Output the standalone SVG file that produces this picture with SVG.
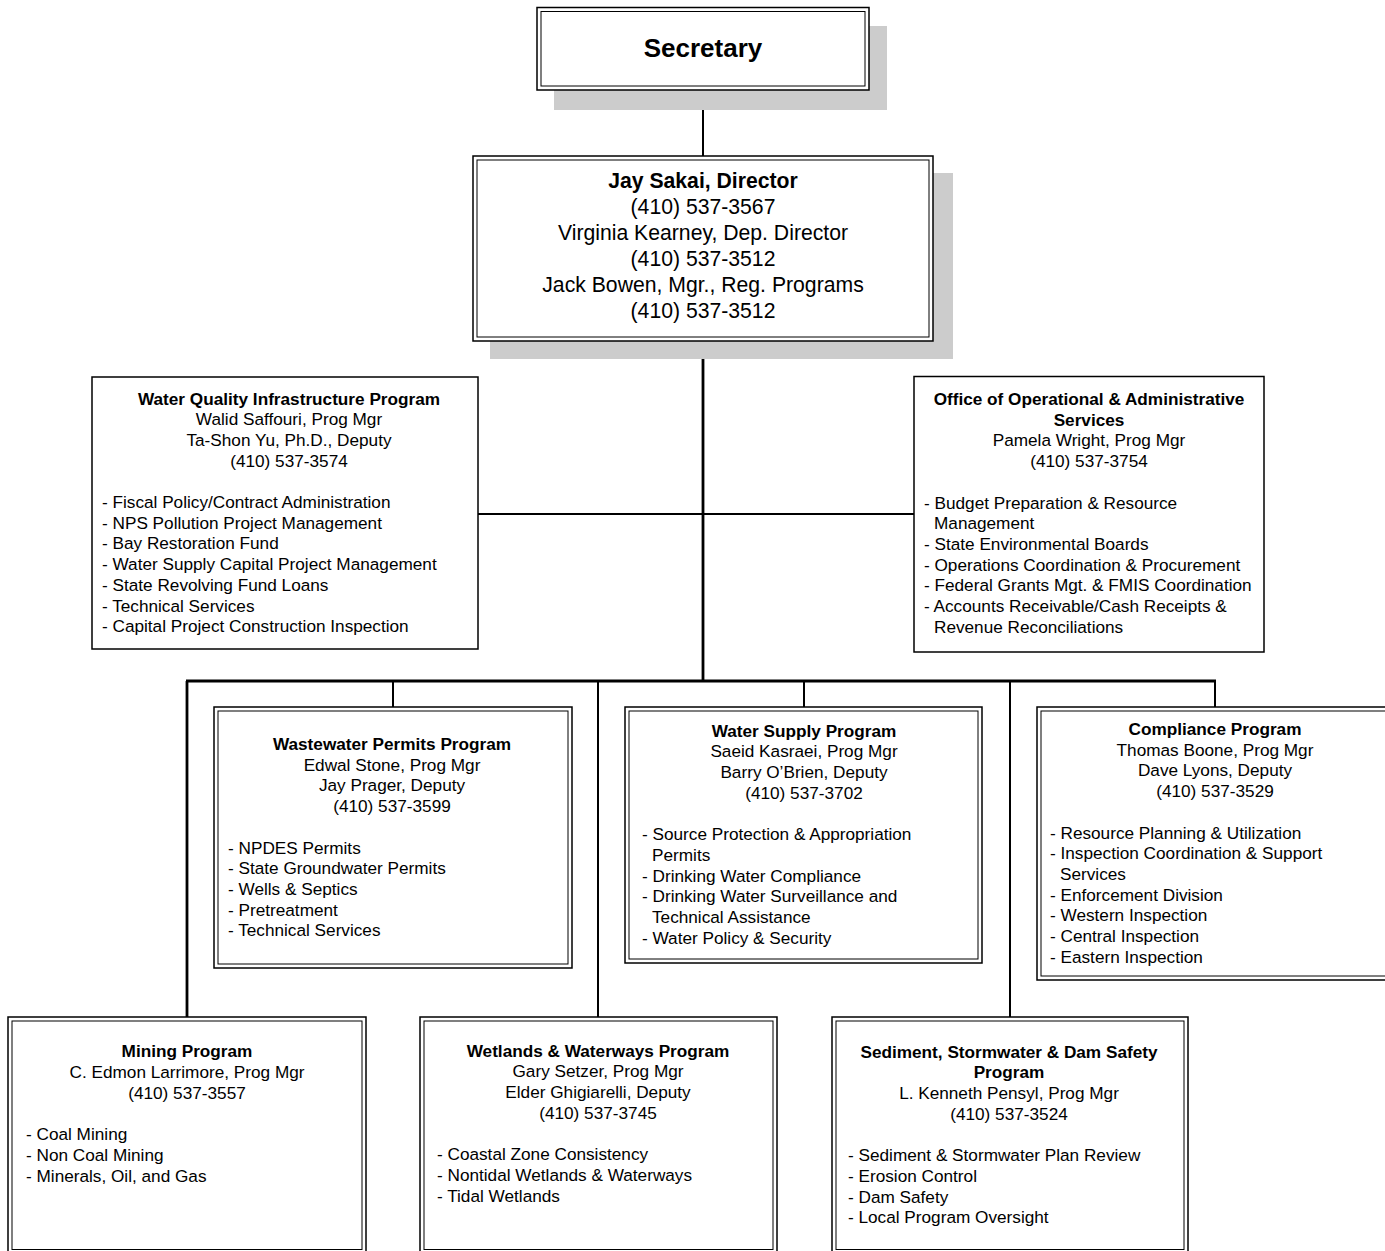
<svg xmlns="http://www.w3.org/2000/svg" width="1385" height="1251" viewBox="0 0 1385 1251">
<style>
text{font-family:"Liberation Sans",Arial,sans-serif;fill:#000}
.t{font-size:17.2px}
.c{text-anchor:middle}
.b{font-weight:bold}
.box{fill:#fff;stroke:#000;stroke-width:1.5}
.inner{fill:none;stroke:#000;stroke-width:1}
.shadow{fill:#cccccc;stroke:none}
.ln{stroke:#000;stroke-width:2;fill:none}
.thk{stroke:#000;stroke-width:2.8;fill:none}
</style>
<g id="connectors">
<line class="ln" x1="703" y1="90" x2="703" y2="156"/>
<line class="thk" x1="703" y1="341" x2="703" y2="681"/>
<line class="ln" x1="478" y1="514" x2="914" y2="514"/>
<line class="thk" x1="186" y1="681" x2="1216" y2="681"/>
<line class="thk" x1="187" y1="681" x2="187" y2="1017"/>
<line class="ln" x1="393" y1="681" x2="393" y2="707"/>
<line class="ln" x1="598" y1="681" x2="598" y2="1017"/>
<line class="ln" x1="804" y1="681" x2="804" y2="707"/>
<line class="ln" x1="1010" y1="681" x2="1010" y2="1017"/>
<line class="ln" x1="1215" y1="681" x2="1215" y2="707"/>
</g>
<g id="secretary">
<rect class="shadow" x="554" y="26" width="333" height="84"/>
<rect class="box" x="537" y="7.5" width="332" height="82.5"/>
<rect class="inner" x="541" y="11.5" width="324" height="74.5"/>
<text class="c b" x="703" y="57" font-size="26">Secretary</text>
</g>
<g id="director">
<rect class="shadow" x="490" y="173" width="463" height="186"/>
<rect class="box" x="473" y="156" width="460" height="185"/>
<rect class="inner" x="477" y="160" width="452" height="177"/>
<g font-size="21.2">
<text class="c b" x="703" y="188">Jay Sakai, Director</text>
<text class="c" x="703" y="214">(410) 537-3567</text>
<text class="c" x="703" y="240">Virginia Kearney, Dep. Director</text>
<text class="c" x="703" y="266">(410) 537-3512</text>
<text class="c" x="703" y="292">Jack Bowen, Mgr., Reg. Programs</text>
<text class="c" x="703" y="318">(410) 537-3512</text>
</g>
</g>
<g id="wqip">
<rect class="box" x="92" y="377" width="386" height="272"/>
<g class="t">
<text class="c b" x="289" y="404.5">Water Quality Infrastructure Program</text>
<text class="c" x="289" y="425.2">Walid Saffouri, Prog Mgr</text>
<text class="c" x="289" y="445.9">Ta-Shon Yu, Ph.D., Deputy</text>
<text class="c" x="289" y="466.6">(410) 537-3574</text>
<text x="102" y="508">- Fiscal Policy/Contract Administration</text>
<text x="102" y="528.7">- NPS Pollution Project Management</text>
<text x="102" y="549.4">- Bay Restoration Fund</text>
<text x="102" y="570.1">- Water Supply Capital Project Management</text>
<text x="102" y="590.8">- State Revolving Fund Loans</text>
<text x="102" y="611.5">- Technical Services</text>
<text x="102" y="632.2">- Capital Project Construction Inspection</text>
</g>
</g>
<g id="ooas">
<rect class="box" x="914" y="376.5" width="350" height="275.5"/>
<g class="t">
<text class="c b" x="1089" y="405">Office of Operational &amp; Administrative</text>
<text class="c b" x="1089" y="425.7">Services</text>
<text class="c" x="1089" y="446.4">Pamela Wright, Prog Mgr</text>
<text class="c" x="1089" y="467.1">(410) 537-3754</text>
<text x="924" y="508.5">- Budget Preparation &amp; Resource</text>
<text x="934" y="529.2">Management</text>
<text x="924" y="549.9">- State Environmental Boards</text>
<text x="924" y="570.6">- Operations Coordination &amp; Procurement</text>
<text x="924" y="591.3">- Federal Grants Mgt. &amp; FMIS Coordination</text>
<text x="924" y="612">- Accounts Receivable/Cash Receipts &amp;</text>
<text x="934" y="632.7">Revenue Reconciliations</text>
</g>
</g>
<g id="wastewater">
<rect class="box" x="214" y="707" width="358" height="261"/>
<rect class="inner" x="218" y="711" width="350" height="253"/>
<g class="t">
<text class="c b" x="392" y="750">Wastewater Permits Program</text>
<text class="c" x="392" y="770.7">Edwal Stone, Prog Mgr</text>
<text class="c" x="392" y="791.4">Jay Prager, Deputy</text>
<text class="c" x="392" y="812.1">(410) 537-3599</text>
<text x="228" y="853.5">- NPDES Permits</text>
<text x="228" y="874.2">- State Groundwater Permits</text>
<text x="228" y="894.9">- Wells &amp; Septics</text>
<text x="228" y="915.6">- Pretreatment</text>
<text x="228" y="936.3">- Technical Services</text>
</g>
</g>
<g id="watersupply">
<rect class="box" x="625" y="707" width="357" height="256"/>
<rect class="inner" x="629" y="711" width="349" height="248"/>
<g class="t">
<text class="c b" x="804" y="736.7">Water Supply Program</text>
<text class="c" x="804" y="757.4">Saeid Kasraei, Prog Mgr</text>
<text class="c" x="804" y="778.1">Barry O’Brien, Deputy</text>
<text class="c" x="804" y="798.8">(410) 537-3702</text>
<text x="642" y="840.2">- Source Protection &amp; Appropriation</text>
<text x="652" y="860.9">Permits</text>
<text x="642" y="881.6">- Drinking Water Compliance</text>
<text x="642" y="902.3">- Drinking Water Surveillance and</text>
<text x="652" y="923">Technical Assistance</text>
<text x="642" y="943.7">- Water Policy &amp; Security</text>
</g>
</g>
<g id="compliance">
<rect class="box" x="1037" y="707" width="356" height="273"/>
<rect class="inner" x="1041" y="711" width="348" height="265"/>
<g class="t">
<text class="c b" x="1215" y="735">Compliance Program</text>
<text class="c" x="1215" y="755.7">Thomas Boone, Prog Mgr</text>
<text class="c" x="1215" y="776.4">Dave Lyons, Deputy</text>
<text class="c" x="1215" y="797.1">(410) 537-3529</text>
<text x="1050" y="838.5">- Resource Planning &amp; Utilization</text>
<text x="1050" y="859.2">- Inspection Coordination &amp; Support</text>
<text x="1060" y="879.9">Services</text>
<text x="1050" y="900.6">- Enforcement Division</text>
<text x="1050" y="921.3">- Western Inspection</text>
<text x="1050" y="942">- Central Inspection</text>
<text x="1050" y="962.7">- Eastern Inspection</text>
</g>
</g>
<g id="mining">
<rect class="box" x="8" y="1017" width="358" height="240"/>
<rect class="inner" x="12" y="1021" width="350" height="228.5"/>
<g class="t">
<text class="c b" x="187" y="1057.3">Mining Program</text>
<text class="c" x="187" y="1078">C. Edmon Larrimore, Prog Mgr</text>
<text class="c" x="187" y="1098.7">(410) 537-3557</text>
<text x="26" y="1140.1">- Coal Mining</text>
<text x="26" y="1160.8">- Non Coal Mining</text>
<text x="26" y="1181.5">- Minerals, Oil, and Gas</text>
</g>
</g>
<g id="wetlands">
<rect class="box" x="420" y="1017" width="357" height="240"/>
<rect class="inner" x="424" y="1021" width="349" height="228.5"/>
<g class="t">
<text class="c b" x="598" y="1056.7">Wetlands &amp; Waterways Program</text>
<text class="c" x="598" y="1077.4">Gary Setzer, Prog Mgr</text>
<text class="c" x="598" y="1098.1">Elder Ghigiarelli, Deputy</text>
<text class="c" x="598" y="1118.8">(410) 537-3745</text>
<text x="437" y="1160.2">- Coastal Zone Consistency</text>
<text x="437" y="1180.9">- Nontidal Wetlands &amp; Waterways</text>
<text x="437" y="1201.6">- Tidal Wetlands</text>
</g>
</g>
<g id="sediment">
<rect class="box" x="832" y="1017" width="356" height="240"/>
<rect class="inner" x="836" y="1021" width="348" height="228.5"/>
<g class="t">
<text class="c b" x="1009" y="1057.7">Sediment, Stormwater &amp; Dam Safety</text>
<text class="c b" x="1009" y="1078.4">Program</text>
<text class="c" x="1009" y="1099.1">L. Kenneth Pensyl, Prog Mgr</text>
<text class="c" x="1009" y="1119.8">(410) 537-3524</text>
<text x="848" y="1161.2">- Sediment &amp; Stormwater Plan Review</text>
<text x="848" y="1181.9">- Erosion Control</text>
<text x="848" y="1202.6">- Dam Safety</text>
<text x="848" y="1223.3">- Local Program Oversight</text>
</g>
</g>
</svg>
